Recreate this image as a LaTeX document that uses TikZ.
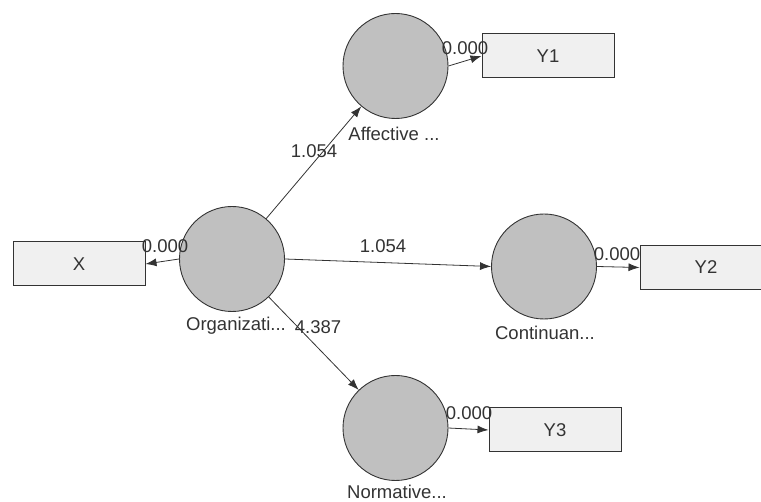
\documentclass[tikz,border=0pt]{standalone}
\usepackage{fontspec}
\setmainfont{Liberation Sans}
\usetikzlibrary{arrows.meta}
\definecolor{lv}{HTML}{C0C0C0}
\definecolor{mv}{HTML}{F0F0F0}
\definecolor{ln}{HTML}{333333}
\definecolor{tx}{HTML}{333333}
\begin{document}
\begin{tikzpicture}[x=1pt,y=-1pt,
  latent/.style={circle,draw=ln,fill=lv,line width=0.9pt,minimum size=105pt,inner sep=0pt},
  manifest/.style={rectangle,draw=ln,fill=mv,line width=1pt,minimum width=132pt,minimum height=44pt,inner sep=0pt,text=tx,font=\fontsize{18.5}{20}\selectfont},
  lab/.style={font=\fontsize{18.5}{20}\selectfont,text=tx,inner sep=0pt},
  path/.style={draw=ln,line width=0.8pt,-{Latex[length=11pt,width=8pt]}}]
\useasboundingbox (0,0) rectangle (761,502);
\node[latent] (org) at (232,259) {};
\node[latent] (aff) at (395.5,66) {};
\node[latent] (con) at (544,266.5) {};
\node[latent] (nor) at (395.5,428) {};
\node[manifest] (x) at (79,264) {X};
\node[manifest] (y1) at (548,56) {Y1};
\node[manifest] (y2) at (706,267.5) {Y2};
\node[manifest] (y3) at (555,430) {Y3};
\node[lab] (lorg) at (236,326) {Organizati...};
\node[lab] (laff) at (394,134) {Affective ...};
\node[lab] (lcon) at (545,333) {Continuan...};
\node[lab] (lnor) at (397,492) {Normative...};
\draw[path] (org) -- (aff);
\draw[path] (org.east) -- (con.west);
\draw[path] (org) -- (nor);
\draw[path] (org.west) -- (x.east);
\draw[path] (aff.east) -- (y1.west);
\draw[path] (con.east) -- (y2.west);
\draw[path] (nor.east) -- (y3.west);
\node[lab] (e1) at (314,151) {1.054};
\node[lab] (e2) at (383,246) {1.054};
\node[lab] (e3) at (318,327) {4.387};
\node[lab] (e4) at (165,246) {0.000};
\node[lab] (e5) at (465,48) {0.000};
\node[lab] (e6) at (617,254) {0.000};
\node[lab] (e7) at (469,413) {0.000};
\end{tikzpicture}
\end{document}
